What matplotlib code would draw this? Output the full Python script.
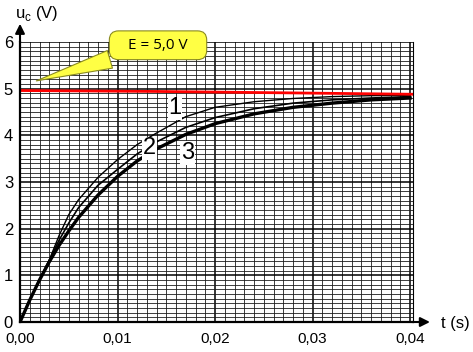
import numpy as np
import matplotlib
matplotlib.use("Agg")
import matplotlib.pyplot as plt
from matplotlib.ticker import MultipleLocator

# ---------------------------------------------
# data (charge of a capacitor)
# ---------------------------------------------
t = [0, 0.001, 0.002, 0.003, 0.004, 0.005, 0.006, 0.008, 0.010, 0.012,
     0.014, 0.017, 0.020, 0.024, 0.028, 0.032, 0.036, 0.040]

u1 = [0, 0.47, 0.91, 1.33, 1.85, 2.30, 2.62, 3.10, 3.48, 3.80,
      4.05, 4.40, 4.60, 4.72, 4.79, 4.83, 4.85, 4.86]
u2 = [0, 0.47, 0.91, 1.32, 1.75, 2.12, 2.45, 2.93, 3.27, 3.60,
      3.86, 4.17, 4.38, 4.57, 4.69, 4.76, 4.80, 4.83]
u3 = [0, 0.47, 0.90, 1.29, 1.64, 1.95, 2.24, 2.72, 3.12, 3.45,
      3.71, 4.02, 4.25, 4.46, 4.60, 4.69, 4.76, 4.80]

# red line E
t_E = [0, 0.014, 0.0275, 0.0403]
u_E = [4.96, 4.94, 4.91, 4.88]

xticks = [0, 0.01, 0.02, 0.03, 0.04]
xlabels = ["0,00", "0,01", "0,02", "0,03", "0,04"]
yticks = [0, 1, 2, 3, 4, 5, 6]

font = "Liberation Sans"

fig = plt.figure(figsize=(4.73, 3.52), dpi=100)
ax = fig.add_axes([0.0423, 0.0852, 0.831, 0.7955])

ax.set_xlim(0, 0.0403)
ax.set_ylim(0, 6.0)

# graph paper grid
ax.xaxis.set_minor_locator(MultipleLocator(0.001))
ax.yaxis.set_minor_locator(MultipleLocator(0.1))
ax.set_xticks(xticks)
ax.set_yticks(yticks)
ax.grid(which="minor", color="#1a1a1a", lw=0.7, alpha=0.85)
ax.grid(which="major", color="#000000", lw=1.1)
ax.set_axisbelow(True)

ax.set_xticklabels(xlabels, fontsize=11, family=font)
ax.set_yticklabels([str(v) for v in yticks], fontsize=12, family=font)
ax.tick_params(which="both", length=0, pad=5)
ax.tick_params(axis="x", pad=7)

ax.spines["top"].set_visible(False)
ax.spines["right"].set_linewidth(0.8)
ax.spines["left"].set_linewidth(1.6)
ax.spines["bottom"].set_linewidth(1.6)

# curves
ax.plot(t, u1, color="black", lw=1.0)
ax.plot(t, u2, color="black", lw=1.2)
ax.plot(t, u3, color="black", lw=2.4)
ax.plot(t_E, u_E, color="red", lw=2.0)

# curve numbers
box = dict(facecolor="white", edgecolor="none", pad=0.5)
ax.text(0.0159, 4.58, "1", fontsize=17, family=font, ha="center", va="center", bbox=box)
ax.text(0.0133, 3.72, "2", fontsize=17, family=font, ha="center", va="center", bbox=box)
ax.text(0.0172, 3.62, "3", fontsize=17, family=font, ha="center", va="center", bbox=box)

# axis arrows
ax.annotate("", xy=(0, 1.075), xytext=(0, 0.99), xycoords="axes fraction",
            arrowprops=dict(arrowstyle="-|>", color="black", lw=1.5, mutation_scale=14),
            annotation_clip=False)
ax.annotate("", xy=(1.05, 0), xytext=(0.99, 0), xycoords="axes fraction",
            arrowprops=dict(arrowstyle="-|>", color="black", lw=1.5, mutation_scale=14),
            annotation_clip=False)

fig.text(0.031, 0.962, "u$_\\mathregular{c}$ (V)", fontsize=12, family=font, va="center")
fig.text(0.933, 0.082, "t (s)", fontsize=12, family=font, va="center")

# callout
ax.annotate("   E = 5,0 V   ", xy=(0.0014, 5.15), xytext=(0.01415, 5.93),
            fontsize=11, family="Open Sans", ha="center", va="center",
            bbox=dict(boxstyle="round,pad=0.45,rounding_size=0.6",
                      facecolor="#ffff44", edgecolor="#8a8a20", lw=0.8),
            arrowprops=dict(arrowstyle="wedge,tail_width=1.2,shrink_factor=0.5",
                            facecolor="#ffff44", edgecolor="#8a8a20", lw=0.8),
            annotation_clip=False, zorder=10)

fig.savefig("out.png", dpi=100)
